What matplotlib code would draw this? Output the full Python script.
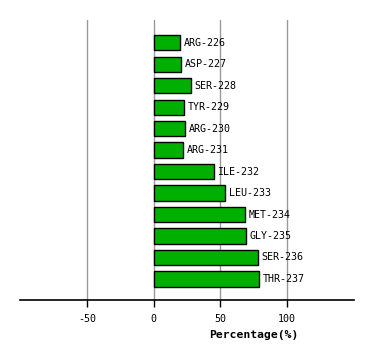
import matplotlib
matplotlib.use('Agg')
import matplotlib.pyplot as plt

# residue labels and percentages, top to bottom
residues = ['ARG-226', 'ASP-227', 'SER-228', 'TYR-229', 'ARG-230', 'ARG-231',
            'ILE-232', 'LEU-233', 'MET-234', 'GLY-235', 'SER-236', 'THR-237']
percent = [19.5, 20.5, 28.0, 22.5, 23.3, 21.8, 45.0, 53.3, 68.3, 69.0, 78.0, 79.0]
xticks = [-50, 0, 50, 100]

fig = plt.figure(figsize=(3.74, 3.60), dpi=100)
ax = fig.add_axes([20/374, 60/360, 334/374, 280/360])

for x in xticks:
    ax.axvline(x, color='#999999', linewidth=1.0, zorder=0)

ypos = list(range(len(residues)))
ax.barh(ypos, percent, height=0.71, left=0, color='#00B000', edgecolor='black', linewidth=1.0, zorder=2)
for y, v, name in zip(ypos, percent, residues):
    ax.text(v + 2.8, y, name, va='center', ha='left', fontsize=7.2, family='DejaVu Sans Mono')

ax.set_xlim(-100, 150)
ax.set_ylim(11.98, -1.06)
ax.set_yticks([])
ax.set_xticks(xticks)
ax.set_xticklabels([str(t) for t in xticks], fontsize=7.2, family='DejaVu Sans Mono')
ax.tick_params(axis='x', length=5, width=1, direction='out', pad=5)
for s in ['top', 'left', 'right']:
    ax.spines[s].set_visible(False)
ax.spines['bottom'].set_linewidth(1.2)
ax.text(75, -35/280, 'Percentage(%)', transform=ax.get_xaxis_transform(), ha='center', va='center',
        fontsize=8.2, fontweight='bold', family='DejaVu Sans Mono')

fig.savefig('out.png', dpi=100)
